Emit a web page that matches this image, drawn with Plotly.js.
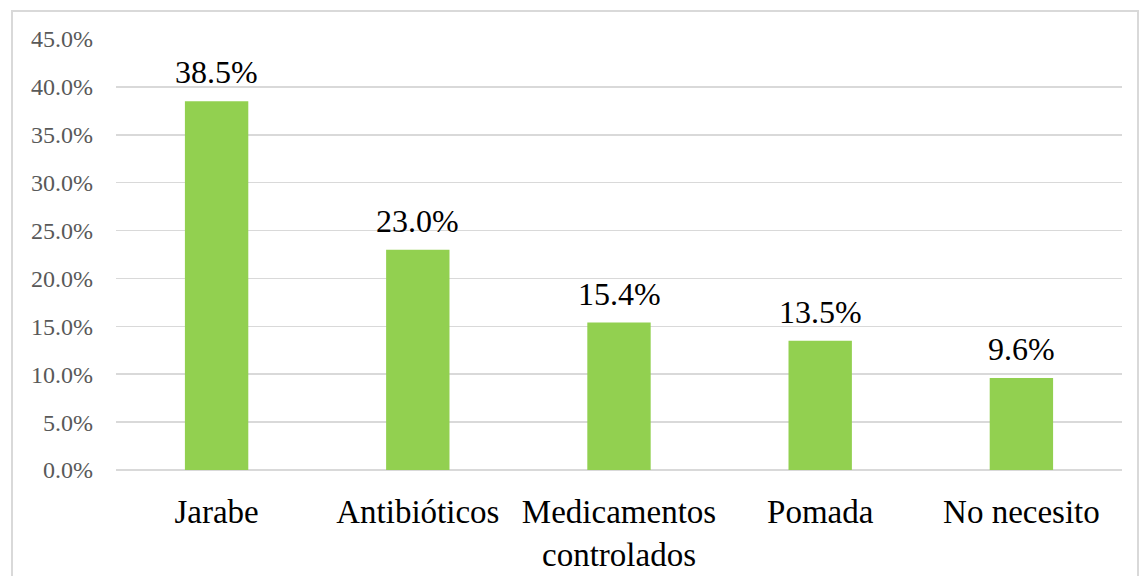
<!DOCTYPE html>
<html>
<head>
<meta charset="utf-8">
<script src="https://cdn.plot.ly/plotly-3.0.1.min.js"></script>
<style>
  html, body { margin: 0; padding: 0; background: #fff; }
  #wrap { position: relative; width: 1143px; height: 576px; overflow: hidden; }
  #chart { position: absolute; left: 0; top: 0; width: 1143px; height: 576px; }
  #frame { position: absolute; left: 11px; top: 10px; width: 1128px; height: 600px;
           border: 2px solid #d9d9d9; pointer-events: none; box-sizing: border-box; }
</style>
</head>
<body>
<div id="wrap">
  <div id="chart"></div>
  <div id="frame"></div>
</div>
<script>
const categories = ["Jarabe", "Antibióticos", "Medicamentos<br>controlados", "Pomada", "No necesito"];
const values = [0.385, 0.230, 0.154, 0.135, 0.096];
const valueLabels = ["38.5%", "23.0%", "15.4%", "13.5%", "9.6%"];

const FONT = '"Liberation Serif", "Times New Roman", serif';

const trace = {
  type: 'bar',
  x: categories,
  y: values,
  marker: { color: '#92d050' },
  width: 0.315,
  hoverinfo: 'none'
};

const annotations = categories.map((c, i) => ({
  x: c, y: values[i], xref: 'x', yref: 'y',
  text: valueLabels[i], showarrow: false,
  yanchor: 'bottom', xanchor: 'center', yshift: 9,
  font: { family: FONT, size: 32, color: '#000000' }
}));

const layout = {
  width: 1143, height: 576,
  margin: { l: 116, r: 21, t: 39, b: 106 },
  paper_bgcolor: 'rgba(0,0,0,0)',
  plot_bgcolor: '#ffffff',
  showlegend: false,
  bargap: 0.685,
  xaxis: {
    type: 'category',
    showgrid: false,
    zeroline: false,
    showline: false,
    ticks: '',
    ticklabelstandoff: 19,
    tickfont: { family: FONT, size: 33, color: '#000000' }
  },
  yaxis: {
    range: [0, 0.45],
    dtick: 0.05,
    tick0: 0,
    tickformat: '.1%',
    showgrid: true,
    gridcolor: '#d9d9d9',
    gridwidth: 1.5,
    zeroline: true,
    zerolinecolor: '#d9d9d9',
    zerolinewidth: 1.5,
    showline: false,
    ticks: '',
    ticklabelstandoff: 22,
    tickfont: { family: FONT, size: 24, color: '#595959' }
  },
  annotations: annotations
};

Plotly.newPlot('chart', [trace], layout, { displayModeBar: false, staticPlot: true });
</script>
</body>
</html>
